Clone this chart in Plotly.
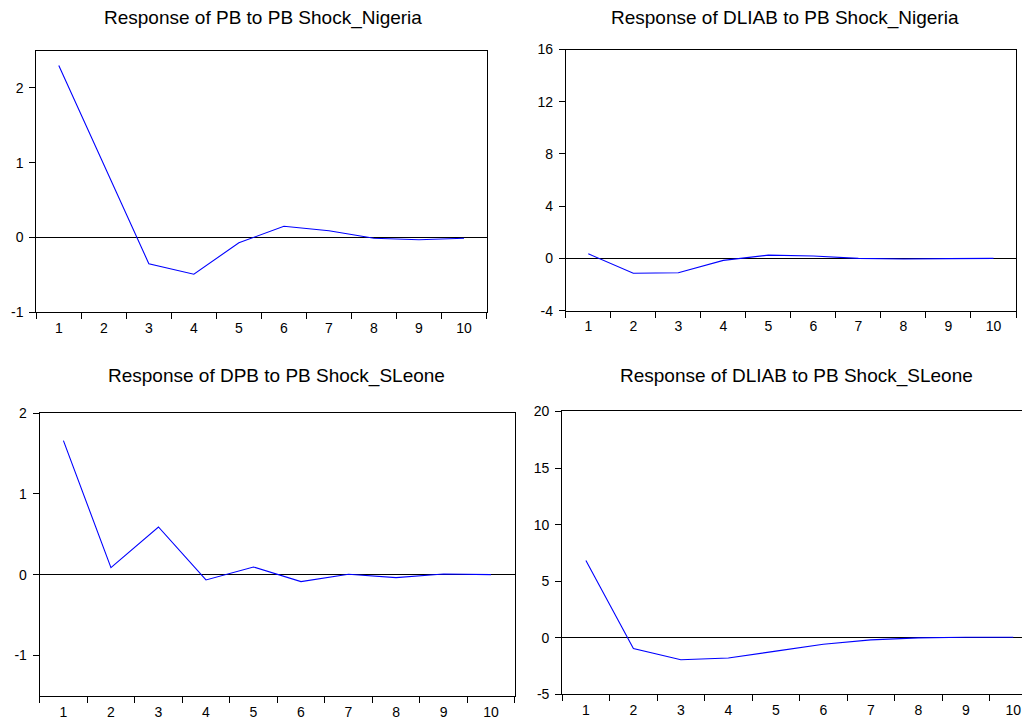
import plotly.graph_objects as go

W, H = 1030, 721

periods = [1, 2, 3, 4, 5, 6, 7, 8, 9, 10]
period_labels = [str(p) for p in periods]

pb_nigeria = [2.30, 0.98, -0.35, -0.49, -0.07, 0.15, 0.09, -0.01, -0.03, -0.01]
dliab_nigeria = [0.35, -1.14, -1.10, -0.15, 0.25, 0.18, 0.0, -0.05, -0.02, 0.0]
dpb_sleone = [1.66, 0.086, 0.59, -0.066, 0.095, -0.086, 0.004, -0.037, 0.008, 0.0]
dliab_sleone = [6.84, -0.94, -1.93, -1.78, -1.17, -0.56, -0.18, 0.0, 0.06, 0.06]

titles = [
    "Response of PB to PB Shock_Nigeria",
    "Response of DLIAB to PB Shock_Nigeria",
    "Response of DPB to PB Shock_SLeone",
    "Response of DLIAB to PB Shock_SLeone",
]
series = [pb_nigeria, dliab_nigeria, dpb_sleone, dliab_sleone]

# target panel boxes in pixels: left, right, top, bottom
boxes = [
    (34.3, 485.0, 49.3, 311.7),
    (564.3, 1015.0, 48.3, 310.0),
    (37.7, 513.3, 412.7, 696.0),
    (560.7, 1036.0, 411.0, 694.7),
]
yranges = [(-1, 2.5), (-4, 16), (-1.5, 2), (-5, 20)]
ytickvals = [[-1, 0, 1, 2], [-4, 0, 4, 8, 12, 16], [-1, 0, 1, 2], [-5, 0, 5, 10, 15, 20]]
xranges = [(0.5, 10.5), (0.5, 10.5), (0.5, 10.5), (0.5, 10.5)]
title_pos = [(261, 17), (784, 17), (275, 376), (795, 376)]

# compensation for page placement
XOFF = 6.0
YOFF, YSC = 14.7, 0.98


def px(x):
    return min(max((x - XOFF) / W, 0), 1)


def py(y):
    return min(max(1 - ((y - YOFF) / YSC) / H, 0), 1)


FONT = "Liberation Sans, Arial, sans-serif"

fig = go.Figure()
layout = dict(
    width=W, height=H,
    margin=dict(l=0, r=0, t=0, b=0),
    paper_bgcolor="white", plot_bgcolor="white",
    showlegend=False,
    font=dict(family=FONT, size=14, color="black"),
)
annotations = []
for i in range(4):
    n = "" if i == 0 else str(i + 1)
    l, r, t, b = boxes[i]
    x0, x1 = px(l), px(r)
    xr = list(xranges[i])
    if x1 >= 1:
        # panel runs past the right edge: clip range at the edge
        full = (r - l)
        vis = (W + XOFF - l)
        xr = [0.5, 0.5 + 10 * vis / full]
    fig.add_trace(go.Scatter(
        x=periods, y=series[i], mode="lines",
        line=dict(color="#0000FF", width=1.1),
        xaxis="x" + n, yaxis="y" + n, hoverinfo="skip",
    ))
    layout["xaxis" + n] = dict(
        domain=[x0, x1], anchor="y" + n,
        range=xr, tickmode="array",
        tickvals=periods, ticktext=period_labels,
        ticks="", showgrid=False, zeroline=False,
        showline=True, linecolor="black", linewidth=1, mirror=True,
        minor=dict(tickmode="array", tickvals=[p - 0.5 for p in periods] + [10.5],
                   ticks="outside", ticklen=6, tickcolor="black", tickwidth=1,
                   showgrid=False),
        ticklabelstandoff=3,
        tickfont=dict(size=14),
    )
    layout["yaxis" + n] = dict(
        domain=[py(b), py(t)], anchor="x" + n,
        range=list(yranges[i]), tickmode="array", tickvals=ytickvals[i],
        ticktext=[str(v) for v in ytickvals[i]],
        ticks="outside", ticklen=6, tickcolor="black",
        showgrid=False, zeroline=True, zerolinecolor="black", zerolinewidth=1,
        showline=True, linecolor="black", linewidth=1, mirror=True,
        ticklabelstandoff=3,
        tickfont=dict(size=14),
    )
    tx, ty = title_pos[i]
    annotations.append(dict(
        text=titles[i], xref="paper", yref="paper",
        x=px(tx), y=py(ty),
        xanchor="center", yanchor="middle", showarrow=False,
        font=dict(family=FONT, size=19, color="black"),
    ))
layout["annotations"] = annotations
fig.update_layout(**layout)
fig.write_html("out.html")
